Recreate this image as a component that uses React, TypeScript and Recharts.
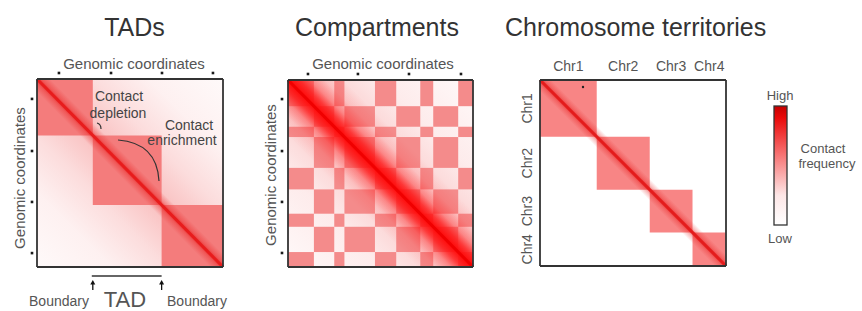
import React from "react";
import { ComposedChart, XAxis, YAxis, ReferenceArea, ReferenceLine } from "recharts";

const W = 862;
const H = 311;
const AX = 20;
const FONT = "'Liberation Sans', Arial, Helvetica, sans-serif";

// genomic positions are in % of the shown region (0 = top/left, 100 = bottom/right)
const tadBounds = [0, 30, 67, 100];
const tadTicksX = [11.8, 39.8, 67.2, 94.6];
const tadTicksY = [10.6, 38.3, 65.4, 92.6];

const compBounds = [0, 14, 25, 30.5, 47, 58.5, 71.5, 78.5, 92, 100];
const compLabels = ["A", "B", "A", "B", "A", "B", "A", "B", "A"];
const compTicksX = [10.8, 37.8, 65.4, 93.5];
const compTicksY = [10.2, 38, 65.2, 92.5];

const chrNames = ["Chr1", "Chr2", "Chr3", "Chr4"];
const chrBounds = [0, 30.5, 59, 82, 100];

const legendLabels = ["High", "Low"];

// plot boxes in px
const boxTad = { left: 37, top: 79, w: 186, h: 188 };
const boxComp = { left: 288, top: 80, w: 185, h: 187 };
const boxChr = { left: 540, top: 80, w: 186, h: 186 };

const margin = (b: any) => ({
  left: b.left - AX,
  top: b.top - AX,
  right: W - b.left - b.w,
  bottom: H - b.top - b.h,
});

const DotTick = (p: any) => (
  <rect x={p.x - 1.3} y={p.y - 1.3} width={2.6} height={2.6} fill="#1a1a1a" />
);

const chrMid = chrNames.map((_, i) => (chrBounds[i] + chrBounds[i + 1]) / 2);

const ChrTopTick = (p: any) => (
  <text x={p.x} y={p.y} textAnchor="middle" fontSize={14} fill="#555" fontFamily={FONT}>
    {chrNames[chrMid.indexOf(p.payload.value)]}
  </text>
);

const ChrLeftTick = (p: any) => (
  <text
    x={p.x}
    y={p.y}
    transform={`rotate(-90 ${p.x} ${p.y})`}
    textAnchor="middle"
    fontSize={14}
    fill="#555"
    fontFamily={FONT}
  >
    {chrNames[chrMid.indexOf(p.payload.value)]}
  </text>
);

// symmetric gradient across the diagonal: [offset from diagonal, opacity]
function diagGradient(id: string, color: string, stops: number[][]) {
  const left = [...stops].reverse().map(([d, o]) => [0.5 - d, o]);
  const right = stops.slice(1).map(([d, o]) => [0.5 + d, o]);
  const all = [...left, ...right];
  return (
    <linearGradient id={id} x1="0" y1="1" x2="1" y2="0">
      {all.map(([off, op], i) => (
        <stop key={i} offset={off} stopColor={color} stopOpacity={op} />
      ))}
    </linearGradient>
  );
}

function Border() {
  return [
    <ReferenceLine key="b1" x={0} stroke="#333" strokeWidth={1.8} />,
    <ReferenceLine key="b2" x={100} stroke="#333" strokeWidth={1.8} />,
    <ReferenceLine key="b3" y={0} stroke="#333" strokeWidth={1.8} />,
    <ReferenceLine key="b4" y={100} stroke="#333" strokeWidth={1.8} />,
  ];
}

function Axes(xTicks: number[], yTicks: number[], xTick: any, yTick: any, xm: number, ym: number) {
  return [
    <XAxis
      key="x"
      type="number"
      dataKey="x"
      domain={[0, 100]}
      orientation="top"
      height={AX}
      ticks={xTicks}
      interval={0}
      tick={xTick}
      tickLine={false}
      tickSize={0}
      tickMargin={xm}
      axisLine={false}
      allowDataOverflow
    />,
    <YAxis
      key="y"
      type="number"
      dataKey="y"
      domain={[0, 100]}
      reversed
      width={AX}
      ticks={yTicks}
      interval={0}
      tick={yTick}
      tickLine={false}
      tickSize={0}
      tickMargin={ym}
      axisLine={false}
      allowDataOverflow
    />,
  ];
}

const solid = { stroke: "none", fillOpacity: 1 };

function TadChart() {
  return (
    <ComposedChart width={W} height={H} margin={margin(boxTad)}>
      <defs>
        {diagGradient("fadeTad", "#ee4a4a", [[0, 0.36], [0.05, 0.3], [0.15, 0.19], [0.3, 0.08], [0.5, 0.03]])}
        {diagGradient("haloTad", "#e81a1a", [[0, 0.75], [0.012, 0.35], [0.035, 0]])}
      </defs>
      {Axes(tadTicksX, tadTicksY, DotTick, DotTick, 6, 5)}
      <ReferenceArea x1={0} x2={100} y1={0} y2={100} fill="url(#fadeTad)" {...solid} />
      {tadBounds.slice(1).map((b, i) => (
        <ReferenceArea
          key={i}
          x1={tadBounds[i]}
          x2={b}
          y1={tadBounds[i]}
          y2={b}
          fill="#f47c7c"
          {...solid}
        />
      ))}
      <ReferenceArea x1={0} x2={100} y1={0} y2={100} fill="url(#haloTad)" {...solid} />
      <ReferenceLine segment={[{ x: 0, y: 0 }, { x: 100, y: 100 }]} stroke="#e81c1c" strokeWidth={3} />
      {Border()}
    </ComposedChart>
  );
}

function CompChart() {
  const cells: any[] = [];
  compLabels.forEach((a, i) =>
    compLabels.forEach((b, j) => {
      if (a === b) cells.push({ i, j });
    })
  );
  return (
    <ComposedChart width={W} height={H} margin={margin(boxComp)}>
      <defs>
        {diagGradient("fadeComp", "#ee3a3a", [[0, 0.35], [0.1, 0.22], [0.25, 0.1], [0.5, 0.03]])}
        {diagGradient("haloComp", "#ff0a0a", [[0, 1], [0.03, 0.75], [0.06, 0.35], [0.1, 0.1], [0.15, 0]])}
      </defs>
      {Axes(compTicksX, compTicksY, DotTick, DotTick, 6, 6)}
      <ReferenceArea x1={0} x2={100} y1={0} y2={100} fill="url(#fadeComp)" {...solid} />
      {cells.map((c, k) => (
        <ReferenceArea
          key={k}
          x1={compBounds[c.j]}
          x2={compBounds[c.j + 1]}
          y1={compBounds[c.i]}
          y2={compBounds[c.i + 1]}
          fill="#f48b8b"
          {...solid}
        />
      ))}
      <ReferenceArea x1={0} x2={100} y1={0} y2={100} fill="url(#haloComp)" {...solid} />
      <ReferenceLine segment={[{ x: 0, y: 0 }, { x: 100, y: 100 }]} stroke="#f00000" strokeWidth={3} />
      {Border()}
    </ComposedChart>
  );
}

function ChrChart() {
  return (
    <ComposedChart width={W} height={H} margin={margin(boxChr)}>
      <defs>
        {diagGradient("haloChr", "#e81a1a", [[0, 0.7], [0.012, 0.3], [0.03, 0]])}
      </defs>
      {Axes(chrMid, chrMid, ChrTopTick, ChrLeftTick, 9, 8)}
      {chrBounds.slice(1).map((b, i) => (
        <ReferenceArea
          key={i}
          x1={chrBounds[i]}
          x2={b}
          y1={chrBounds[i]}
          y2={b}
          fill="#f88585"
          {...solid}
        />
      ))}
      <ReferenceArea x1={0} x2={100} y1={0} y2={100} fill="url(#haloChr)" {...solid} />
      <ReferenceLine segment={[{ x: 0, y: 0 }, { x: 100, y: 100 }]} stroke="#e41c1c" strokeWidth={3} />
      {Border()}
    </ComposedChart>
  );
}

const layer: React.CSSProperties = { position: "absolute", left: 0, top: 0 };

function Overlay() {
  const tx = (b: number) => boxTad.left + (b / 100) * boxTad.w;
  const bL = tx(tadBounds[1]);
  const bR = tx(tadBounds[2]);
  const small = { fontFamily: FONT, fontSize: 15, fill: "#555" };
  return (
    <svg width={W} height={H} style={{ ...layer, pointerEvents: "none" }}>
      <defs>
        <linearGradient id="legendGrad" x1="0" y1="0" x2="0" y2="1">
          <stop offset="0" stopColor="#c40000" />
          <stop offset="0.1" stopColor="#ea0a0a" />
          <stop offset="0.4" stopColor="#f77070" />
          <stop offset="0.75" stopColor="#fde6e6" />
          <stop offset="1" stopColor="#ffffff" />
        </linearGradient>
      </defs>
      {/* titles */}
      <g fontFamily={FONT} fontSize={25} fill="#333">
        <text x={134.5} y={36} textAnchor="middle">TADs</text>
        <text x={377} y={36} textAnchor="middle">Compartments</text>
        <text x={505} y={36}>Chromosome territories</text>
      </g>
      {/* axis titles */}
      <text x={134} y={69} textAnchor="middle" {...small}>Genomic coordinates</text>
      <text x={383} y={69} textAnchor="middle" {...small}>Genomic coordinates</text>
      <text x={25} y={178} transform="rotate(-90 25 178)" textAnchor="middle" {...small}>
        Genomic coordinates
      </text>
      <text x={276} y={175} transform="rotate(-90 276 175)" textAnchor="middle" {...small}>
        Genomic coordinates
      </text>
      {/* TAD annotations */}
      <g fontFamily={FONT} fontSize={14} fill="#444" textAnchor="middle">
        <text x={119} y={101}>Contact</text>
        <text x={118} y={118}>depletion</text>
        <text x={189} y={130}>Contact</text>
        <text x={182} y={145}>enrichment</text>
      </g>
      <path d="M97,123 Q101,124 101,129" stroke="#333" strokeWidth={1.2} fill="none" />
      <path d="M118,140 Q157,143 159,181" stroke="#333" strokeWidth={1.2} fill="none" />
      <line x1={bL - 1} x2={bR} y1={276} y2={276} stroke="#333" strokeWidth={1.4} />
      {[bL, bR].map((x, i) => (
        <g key={i}>
          <line x1={x} x2={x} y1={283} y2={290} stroke="#111" strokeWidth={1.3} />
          <path d={`M${x - 2.5},${284.5} L${x},${280} L${x + 2.5},${284.5} Z`} fill="#111" />
        </g>
      ))}
      <g fontFamily={FONT} fill="#555" textAnchor="middle">
        <text x={59} y={306} fontSize={14}>Boundary</text>
        <text x={125} y={307} fontSize={22}>TAD</text>
        <text x={197} y={306} fontSize={14}>Boundary</text>
      </g>
      <circle cx={583} cy={87} r={1.2} fill="#222" />
      {/* colour scale */}
      <rect x={774} y={106} width={13} height={119} fill="url(#legendGrad)" stroke="#333" strokeWidth={1.3} />
      <g fontFamily={FONT} fontSize={13} fill="#555" textAnchor="middle">
        <text x={780} y={100}>{legendLabels[0]}</text>
        <text x={780} y={243}>{legendLabels[1]}</text>
        <text x={823} y={153}>Contact</text>
        <text x={827} y={168}>frequency</text>
      </g>
    </svg>
  );
}

export default function App() {
  return (
    <div style={{ position: "absolute", left: 0, top: 0, width: W, height: H, background: "#fff" }}>
      <div style={layer}><TadChart /></div>
      <div style={layer}><CompChart /></div>
      <div style={layer}><ChrChart /></div>
      <Overlay />
    </div>
  );
}
